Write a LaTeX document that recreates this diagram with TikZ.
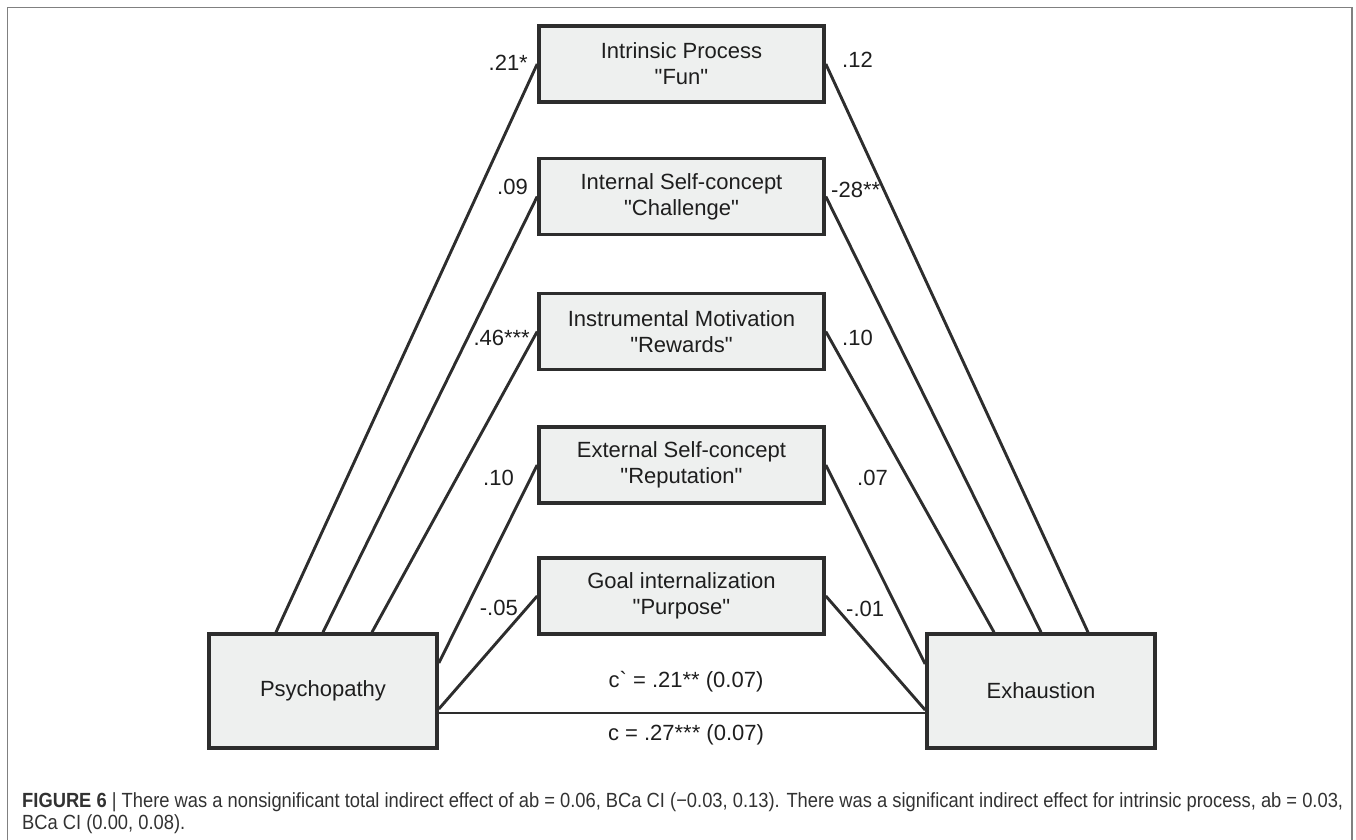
\documentclass[tikz,border=0pt]{standalone}
\usepackage{fontspec}
\setmainfont{Liberation Sans}[Ligatures=TeXOff]
\newfontfamily\capfont{Liberation Sans}
\usepackage{graphicx}
\definecolor{boxfill}{RGB}{238,240,239}
\definecolor{ink}{RGB}{45,45,45}
\definecolor{framegray}{RGB}{128,128,128}
\definecolor{txt}{RGB}{30,30,30}
\definecolor{captxt}{RGB}{50,50,50}
\newlength\mycaplen
\newcommand\figcapA{\textbf{FIGURE 6} | There was a nonsignificant total indirect effect of ab = 0.06, BCa CI (−0.03, 0.13). There was a significant indirect effect for intrinsic process, ab = 0.03,}
\newcommand\figcapB{BCa CI (0.00, 0.08).}
\newcommand\capsize{\capfont\fontsize{20.5}{24}\selectfont}
\newsavebox\mycapbox
\begin{document}
\sbox\mycapbox{\capsize\figcapA}%
\setlength\mycaplen{\wd\mycapbox}%
\pgfmathsetmacro\capscale{1321/(\mycaplen+0.001pt)}%
\begin{tikzpicture}[x=1pt,y=-1pt,
  med/.style={draw=ink, line width=3.6pt, fill=boxfill, minimum width=285pt,
    minimum height=76pt, inner sep=0pt, align=center,
    font=\fontsize{22}{26}\selectfont, text=txt},
  endbox/.style={med, minimum width=228pt, minimum height=114pt},
  conn/.style={draw=ink, line width=2.9pt},
  lab/.style={font=\fontsize{22}{26}\selectfont, text=txt, inner sep=0pt}]
\useasboundingbox (0,0) rectangle (1356,839);
% frame
\draw[framegray, line width=1.8pt] (7.5,840) -- (7.5,7.5) -- (1352,7.5) -- (1352,840);
% mediator boxes
\node[med] (m1) at (681.5,64)    {Intrinsic Process\\"Fun"};
\node[med] (m2) at (681.5,196.5) {Internal Self-concept\\"Challenge"};
\node[med] (m3) at (681.5,331.5) {Instrumental Motivation\\"Rewards"};
\node[med] (m4) at (681.5,465)   {External Self-concept\\"Reputation"};
\node[med] (m5) at (681.5,596)   {Goal internalization\\"Purpose"};
\node[endbox] (P) at (323,691)  {Psychopathy};
\node[endbox] (E) at (1041,691) {Exhaustion};
% connectors left
\draw[conn] ([xshift=-47pt]P.north) -- (m1.west);
\draw[conn] (P.north) -- (m2.west);
\draw[conn] ([xshift=49pt]P.north) -- (m3.west);
\draw[conn] ([yshift=28pt]P.east) -- (m4.west);
\draw[conn] ([yshift=-18pt]P.east) -- (m5.west);
% connectors right
\draw[conn] (m1.east) -- ([xshift=47pt]E.north);
\draw[conn] (m2.east) -- (E.north);
\draw[conn] (m3.east) -- ([xshift=-47pt]E.north);
\draw[conn] (m4.east) -- ([yshift=27pt]E.west);
\draw[conn] (m5.east) -- ([yshift=-19pt]E.west);
% direct path
\draw[conn] ([yshift=-22pt]P.east) -- ([yshift=-22pt]E.west);
% labels
\node[lab, anchor=east] (l1) at (528,63)  {.21*};
\node[lab, anchor=east] (l2) at (528,187) {.09};
\node[lab, anchor=east] (l3) at (530,338) {.46***};
\node[lab, anchor=east] (l4) at (514,478) {.10};
\node[lab, anchor=east] (l5) at (518,608) {-.05};
\node[lab, anchor=west] (r1) at (842,60)  {.12};
\node[lab, anchor=west] (r2) at (831,190) {-28**};
\node[lab, anchor=west] (r3) at (842,338) {.10};
\node[lab, anchor=west] (r4) at (857,478) {.07};
\node[lab, anchor=west] (r5) at (846,609) {-.01};
\node[lab] (cp) at (686,682) {c` = .21** (0.07)};
\node[lab] (c)  at (686,735) {c = .27*** (0.07)};
% caption
\node[anchor=base west, inner sep=0pt, text=captxt] (cap1) at (22,807)
  {\scalebox{\capscale}[1]{\capsize\figcapA}};
\node[anchor=base west, inner sep=0pt, text=captxt] (cap2) at (22,829)
  {\scalebox{\capscale}[1]{\capsize\figcapB}};
\end{tikzpicture}
\end{document}
